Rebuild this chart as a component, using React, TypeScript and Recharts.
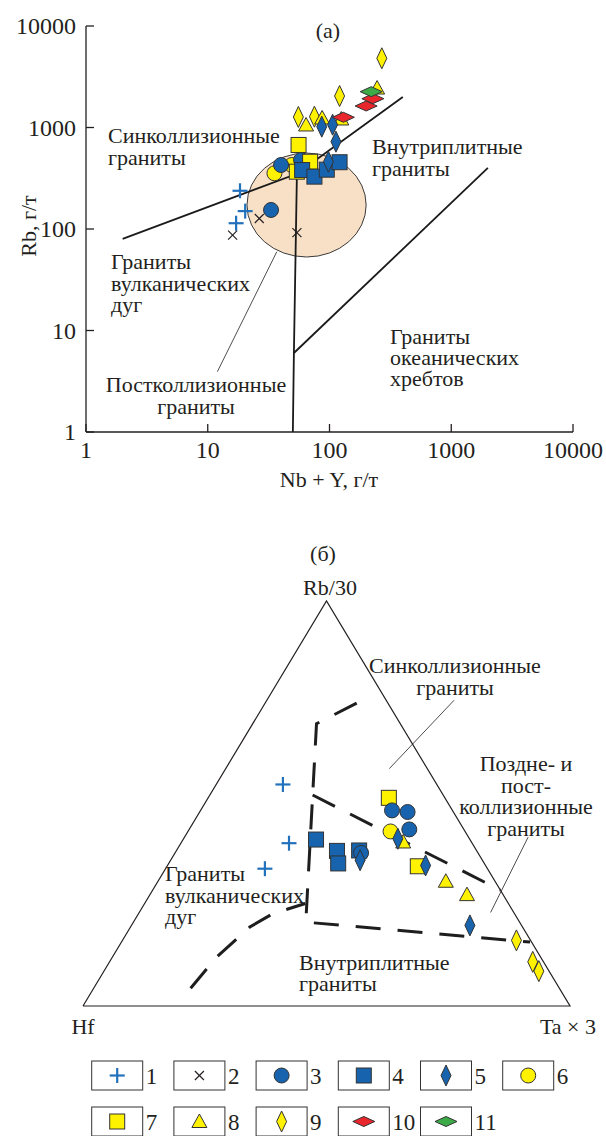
import React from 'react';
import { ScatterChart, Scatter, XAxis, YAxis, ReferenceLine, ReferenceArea } from 'recharts';

const FONT = "'Liberation Serif', 'Times New Roman', serif";
const INK = '#231f20';
const BLUE = '#1763ad';
const PLUS_BLUE = '#2271bd';
const YELLOW = '#fff200';
const RED = '#e9262c';
const GREEN = '#3daa48';

// (а) Rb vs Nb + Y, г/т
const plusRb = [{ x: 18.4, y: 238 }, { x: 20.3, y: 150 }, { x: 17.1, y: 114 }];
const crossRb = [{ x: 16, y: 87 }, { x: 26.5, y: 127 }, { x: 54, y: 92 }];
const blueCircleRb = [{ x: 40, y: 427 }, { x: 58.4, y: 478 }, { x: 33.1, y: 154 }];
const yellowCircleRb = [{ x: 35.3, y: 354 }, { x: 49, y: 427 }];
const blueSquareRb = [{ x: 59.6, y: 381 }, { x: 75.2, y: 328 }, { x: 95, y: 384 }, { x: 121, y: 455 }];
const yellowSquareRb = [{ x: 55.7, y: 673 }, { x: 69.3, y: 460 }, { x: 53.9, y: 367 }];
const blueDiamondRb = [{ x: 86.4, y: 1019 }, { x: 106, y: 1066 }, { x: 113, y: 725 }, { x: 98, y: 460 }];
const yellowDiamondRb = [{ x: 269, y: 4808 }, { x: 121, y: 2043 }, { x: 55.5, y: 1269 }, { x: 75.2, y: 1278 }];
const triangleRb = [{ x: 64.2, y: 1059 }, { x: 87, y: 1241 }, { x: 125, y: 1213 }, { x: 246, y: 2449 }];
const redDiamondRb = [{ x: 130, y: 1260 }, { x: 200, y: 1629 }, { x: 227, y: 1923 }];
const greenDiamondRb = [{ x: 220, y: 2254 }];

// field boundaries (Pearce et al.)
const synColBoundary = [{ x: 2, y: 80 }, { x: 54, y: 350 }, { x: 400, y: 2000 }];
const vagWpgBoundary = [{ x: 54, y: 350 }, { x: 51, y: 6 }, { x: 50, y: 1 }];
const orgBoundary = [{ x: 51, y: 6 }, { x: 2000, y: 400 }];
const postColField = { x1: 21, x2: 200, y1: 53, y2: 560 };
const postColPointer = [{ x: 12, y: 3.93 }, { x: 36.9, y: 59.7 }];
const logTicks = [1, 10, 100, 1000, 10000];

// (б) Rb/30 – Hf – Ta×3, %: [Rb/30, Hf, Ta×3]
const plusTern = [[54.7, 31.6, 13.7], [40.2, 37.6, 22.2], [33.9, 45.7, 20.4]];
const blueCircleTern = [[48.3, 12.4, 39.3], [47.9, 9.4, 42.7], [43.6, 11.2, 45.2], [37.8, 24.0, 38.2]];
const blueSquareTern = [[41.1, 31.6, 27.3], [38.3, 28.7, 33.0], [35.2, 30.0, 34.8], [38.4, 24.1, 37.5]];
const blueDiamondTern = [[41.3, 14.7, 44.0], [36.0, 25.1, 38.9], [34.7, 12.3, 53.0], [19.9, 10.6, 69.5]];
const yellowCircleTern = [[43.1, 15.3, 41.6]];
const yellowSquareTern = [[51.4, 11.5, 37.1], [34.5, 14.0, 51.5]];
const triangleTern = [[40.5, 14.0, 45.5], [30.8, 10.1, 59.1], [27.5, 7.4, 65.1]];
const yellowDiamondTern = [[16.2, 2.9, 80.9], [10.9, 2.2, 86.9], [8.6, 2.1, 89.3]];

const vagBoundaryTern = [[4.4, 75.7, 19.9], [12.1, 66.5, 21.4], [19.5, 56.0, 24.5], [22.8, 49.6, 27.6], [25.3, 41.7, 33.0]];
const wpgBoundaryTern = [[74.8, 6.4, 18.8], [69.7, 17.2, 13.1], [20.7, 43.9, 35.4], [15.8, 0.3, 83.9]];
const colBoundaryTern = [[52.1, 26.8, 21.1], [28.6, 0, 71.4]];
const frameTern = [[0, 100, 0], [0, 0, 100], [100, 0, 0], [0, 100, 0]];

const legendLabels = ['1', '2', '3', '4', '5', '6', '7', '8', '9', '10', '11'];

// ternary -> cartesian, base Hf (left) .. Ta×3 (right), apex Rb/30
const toXY = (rows: number[][]) =>
  rows.map(([rb, hf, ta]) => {
    const s = rb + hf + ta;
    return { x: (ta + rb / 2) / s, y: rb / s };
  });

type Kind = 'plus' | 'cross' | 'circle' | 'square' | 'vdiamond' | 'hdiamond' | 'triangle';

function Marker({ kind, cx, cy, fill }: { kind: Kind; cx: number; cy: number; fill: string }) {
  const edge = { stroke: '#333', strokeWidth: 1 };
  switch (kind) {
    case 'plus':
      return (
        <g stroke={fill} strokeWidth={2.2}>
          <line x1={cx - 7.5} y1={cy} x2={cx + 7.5} y2={cy} />
          <line x1={cx} y1={cy - 7.5} x2={cx} y2={cy + 7.5} />
        </g>
      );
    case 'cross':
      return (
        <g stroke={fill} strokeWidth={1.2}>
          <line x1={cx - 4.5} y1={cy - 4.5} x2={cx + 4.5} y2={cy + 4.5} />
          <line x1={cx - 4.5} y1={cy + 4.5} x2={cx + 4.5} y2={cy - 4.5} />
        </g>
      );
    case 'circle':
      return <circle cx={cx} cy={cy} r={7.5} fill={fill} {...edge} />;
    case 'square':
      return <rect x={cx - 7.5} y={cy - 7.5} width={15} height={15} fill={fill} {...edge} />;
    case 'vdiamond':
      return <polygon points={`${cx},${cy - 10.5} ${cx + 5},${cy} ${cx},${cy + 10.5} ${cx - 5},${cy}`} fill={fill} {...edge} />;
    case 'hdiamond':
      return <polygon points={`${cx - 11},${cy} ${cx},${cy - 5} ${cx + 11},${cy} ${cx},${cy + 5}`} fill={fill} {...edge} />;
    case 'triangle':
      return <polygon points={`${cx},${cy - 7.5} ${cx + 7.5},${cy + 6} ${cx - 7.5},${cy + 6}`} fill={fill} {...edge} />;
    default:
      return null;
  }
}

const shapeOf = (kind: Kind, fill: string) => (p: any) => <Marker kind={kind} cx={p.cx} cy={p.cy} fill={fill} />;
const noShape = () => <g />;

const legendItems: { kind: Kind; fill: string }[] = [
  { kind: 'plus', fill: PLUS_BLUE },
  { kind: 'cross', fill: INK },
  { kind: 'circle', fill: BLUE },
  { kind: 'square', fill: BLUE },
  { kind: 'vdiamond', fill: BLUE },
  { kind: 'circle', fill: YELLOW },
  { kind: 'square', fill: YELLOW },
  { kind: 'triangle', fill: YELLOW },
  { kind: 'vdiamond', fill: YELLOW },
  { kind: 'hdiamond', fill: RED },
  { kind: 'hdiamond', fill: GREEN },
];

const txt = { fontFamily: FONT, fontSize: 22, fill: INK };
const tickTxt = { ...txt, fontSize: 24 };

const XTick = (p: any) => (
  <g>
    <line x1={p.x} y1={p.y} x2={p.x} y2={p.y - 8} stroke={INK} strokeWidth={1.3} />
    <text x={p.x} y={p.y + 18} textAnchor="middle" dominantBaseline="central" {...tickTxt}>
      {p.payload.value}
    </text>
  </g>
);

const YTick = (p: any) => (
  <g>
    <line x1={p.x} y1={p.y} x2={p.x + 8} y2={p.y} stroke={INK} strokeWidth={1.3} />
    <text x={p.x - 10} y={p.y} textAnchor="end" dominantBaseline="central" {...tickTxt}>
      {p.payload.value}
    </text>
  </g>
);

// field captions: first-line centre, anchor, line step
const notes: { lines: string[]; x: number; y: number; a?: 'start' | 'middle' | 'end'; lh?: number }[] = [
  { lines: ['(a)'], x: 328, y: 30, a: 'middle' },
  { lines: ['Синколлизионные', 'граниты'], x: 108, y: 135, lh: 22 },
  { lines: ['Внутриплитные', 'граниты'], x: 372, y: 146, lh: 22 },
  { lines: ['Граниты', 'вулканических', 'дуг'], x: 111, y: 261, lh: 21.5 },
  { lines: ['Граниты', 'океанических', 'хребтов'], x: 390, y: 336, lh: 21 },
  { lines: ['Постколлизионные', 'граниты'], x: 196, y: 384, a: 'middle', lh: 22 },
  { lines: ['Nb + Y, г/т'], x: 329, y: 479, a: 'middle' },
  { lines: ['(б)'], x: 323, y: 553, a: 'middle' },
  { lines: ['Rb/30'], x: 330, y: 587, a: 'middle' },
  { lines: ['Синколлизионные', 'граниты'], x: 455, y: 665, a: 'middle', lh: 22 },
  { lines: ['Поздне- и', 'пост-', 'коллизионные', 'граниты'], x: 526, y: 763, a: 'middle', lh: 21.7 },
  { lines: ['Граниты', 'вулканических', 'дуг'], x: 165, y: 873, lh: 21.5 },
  { lines: ['Внутриплитные', 'граниты'], x: 299, y: 962, lh: 21 },
  { lines: ['Hf'], x: 83, y: 1026, a: 'middle' },
  { lines: ['Ta × 3'], x: 568, y: 1026, a: 'middle' },
];

const dash = { stroke: '#1e1e1e', strokeWidth: 3, strokeDasharray: '25 17' };

function DiscriminationLog() {
  return (
    <ScatterChart width={606} height={500} margin={{ top: 26, right: 33, bottom: 0, left: 0 }}>
      <XAxis
        type="number"
        dataKey="x"
        scale="log"
        domain={[1, 10000]}
        ticks={logTicks}
        allowDataOverflow
        height={68}
        tickSize={0}
        tickMargin={0}
        tickLine={false}
        tick={<XTick />}
        axisLine={{ stroke: INK, strokeWidth: 1.3 }}
      />
      <YAxis
        type="number"
        dataKey="y"
        scale="log"
        domain={[1, 10000]}
        ticks={logTicks}
        allowDataOverflow
        width={86}
        tickSize={0}
        tickMargin={0}
        tickLine={false}
        tick={<YTick />}
        axisLine={{ stroke: INK, strokeWidth: 1.3 }}
      />
      <ReferenceArea
        {...postColField}
        shape={(p: any) => (
          <ellipse
            cx={p.x + p.width / 2}
            cy={p.y + p.height / 2}
            rx={Math.abs(p.width) / 2}
            ry={Math.abs(p.height) / 2}
            fill="#f8e0c6"
            stroke="#3a3a3a"
            strokeWidth={1}
          />
        )}
      />
      <ReferenceLine segment={postColPointer} stroke={INK} strokeWidth={0.8} />
      {[synColBoundary, vagWpgBoundary, orgBoundary].map((b, i) => (
        <Scatter key={i} data={b} shape={noShape} line={{ stroke: '#1a1a1a', strokeWidth: 1.8 }} isAnimationActive={false} />
      ))}
      <Scatter data={yellowCircleRb} shape={shapeOf('circle', YELLOW)} isAnimationActive={false} />
      <Scatter data={blueCircleRb} shape={shapeOf('circle', BLUE)} isAnimationActive={false} />
      <Scatter data={yellowSquareRb} shape={shapeOf('square', YELLOW)} isAnimationActive={false} />
      <Scatter data={blueSquareRb} shape={shapeOf('square', BLUE)} isAnimationActive={false} />
      <Scatter data={yellowDiamondRb} shape={shapeOf('vdiamond', YELLOW)} isAnimationActive={false} />
      <Scatter data={triangleRb} shape={shapeOf('triangle', YELLOW)} isAnimationActive={false} />
      <Scatter data={blueDiamondRb} shape={shapeOf('vdiamond', BLUE)} isAnimationActive={false} />
      <Scatter data={redDiamondRb} shape={shapeOf('hdiamond', RED)} isAnimationActive={false} />
      <Scatter data={greenDiamondRb} shape={shapeOf('hdiamond', GREEN)} isAnimationActive={false} />
      <Scatter data={plusRb} shape={shapeOf('plus', PLUS_BLUE)} isAnimationActive={false} />
      <Scatter data={crossRb} shape={shapeOf('cross', INK)} isAnimationActive={false} />
    </ScatterChart>
  );
}

function DiscriminationTernary() {
  return (
    <ScatterChart width={606} height={520} margin={{ top: 61, right: 36, bottom: 54, left: 83 }}>
      <XAxis type="number" dataKey="x" domain={[0, 1]} hide height={0} />
      <YAxis type="number" dataKey="y" domain={[0, 1]} hide width={0} />
      <Scatter data={toXY(frameTern)} shape={noShape} line={{ stroke: INK, strokeWidth: 1.2 }} isAnimationActive={false} />
      <ReferenceLine segment={[{ x: 0.629, y: 0.586 }, { x: 0.762, y: 0.755 }]} stroke={INK} strokeWidth={0.8} />
      <ReferenceLine segment={[{ x: 0.837, y: 0.231 }, { x: 0.914, y: 0.417 }]} stroke={INK} strokeWidth={0.8} />
      <Scatter data={toXY(vagBoundaryTern)} shape={noShape} line={dash} isAnimationActive={false} />
      <Scatter data={toXY(wpgBoundaryTern)} shape={noShape} line={dash} isAnimationActive={false} />
      <Scatter data={toXY(colBoundaryTern)} shape={noShape} line={dash} isAnimationActive={false} />
      <Scatter data={toXY(yellowSquareTern)} shape={shapeOf('square', YELLOW)} isAnimationActive={false} />
      <Scatter data={toXY(yellowCircleTern)} shape={shapeOf('circle', YELLOW)} isAnimationActive={false} />
      <Scatter data={toXY(triangleTern)} shape={shapeOf('triangle', YELLOW)} isAnimationActive={false} />
      <Scatter data={toXY(blueSquareTern)} shape={shapeOf('square', BLUE)} isAnimationActive={false} />
      <Scatter data={toXY(blueCircleTern)} shape={shapeOf('circle', BLUE)} isAnimationActive={false} />
      <Scatter data={toXY(blueDiamondTern)} shape={shapeOf('vdiamond', BLUE)} isAnimationActive={false} />
      <Scatter data={toXY(yellowDiamondTern)} shape={shapeOf('vdiamond', YELLOW)} isAnimationActive={false} />
      <Scatter data={toXY(plusTern)} shape={shapeOf('plus', PLUS_BLUE)} isAnimationActive={false} />
    </ScatterChart>
  );
}

function SymbolKey() {
  return (
    <svg width={606} height={76}>
      {legendItems.map((it, i) => {
        const col = i % 6;
        const row = Math.floor(i / 6);
        const bx = 91.7 + col * 82.2;
        const by = 1 + row * 46;
        return (
          <g key={i}>
            <rect x={bx} y={by} width={51} height={29} fill="#fff" stroke="#333" strokeWidth={1} />
            <Marker kind={it.kind} cx={bx + 25.5} cy={by + 14.5} fill={it.fill} />
            <text x={bx + 54} y={by + 15} dominantBaseline="central" {...txt} fontSize={23}>
              {legendLabels[i]}
            </text>
          </g>
        );
      })}
    </svg>
  );
}

export default function App() {
  return (
    <div style={{ position: 'absolute', left: 0, top: 0, width: 606, height: 1136, background: '#fff', overflow: 'hidden' }}>
      <div style={{ position: 'absolute', left: 0, top: 0 }}>
        <DiscriminationLog />
      </div>
      <div style={{ position: 'absolute', left: 0, top: 540 }}>
        <DiscriminationTernary />
      </div>
      <div style={{ position: 'absolute', left: 0, top: 1060 }}>
        <SymbolKey />
      </div>
      <svg width={606} height={1136} style={{ position: 'absolute', left: 0, top: 0, pointerEvents: 'none' }}>
        {notes.map((n, i) => (
          <text key={i} x={n.x} y={n.y} textAnchor={n.a || 'start'} dominantBaseline="central" {...txt}>
            {n.lines.map((l, j) => (
              <tspan key={j} x={n.x} dy={j === 0 ? 0 : n.lh}>
                {l}
              </tspan>
            ))}
          </text>
        ))}
        <text x={28} y={226} transform="rotate(-90 28 226)" textAnchor="middle" dominantBaseline="central" {...txt}>
          Rb, г/т
        </text>
      </svg>
    </div>
  );
}
